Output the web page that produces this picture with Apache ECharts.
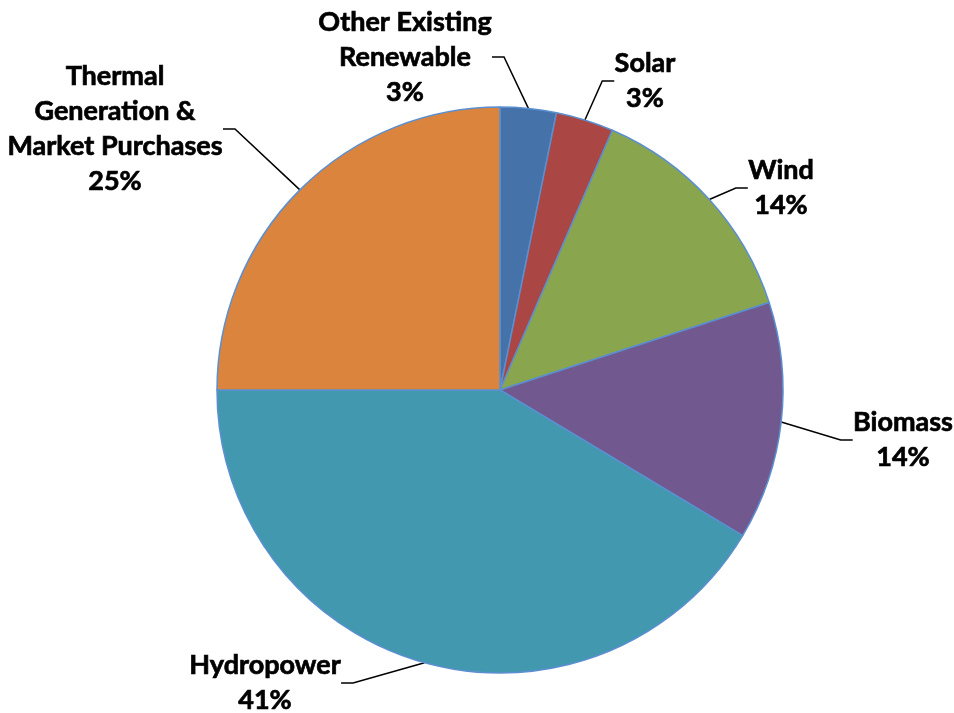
<!DOCTYPE html>
<html>
<head>
<meta charset="utf-8">
<script src="https://cdn.jsdelivr.net/npm/echarts@6/dist/echarts.min.js"></script>
<style>
  html, body { margin: 0; padding: 0; background: #fff; }
  #chart { width: 954px; height: 713px; }
</style>
</head>
<body>
<div id="chart"></div>
<script>
  let categories = ['Other Existing\nRenewable', 'Solar', 'Wind', 'Biomass', 'Hydropower', 'Thermal\nGeneration &\nMarket Purchases'];
  let shares = [3.2, 3.3, 13.5, 13.6, 41.4, 25.0];
  let colors = ['#4572a8', '#aa4643', '#89a54e', '#71588f', '#4198af', '#db843d'];

  // where each label block sits (centre of the text block, px)
  let labelSpots = [[405, 57], [645, 81], [781, 188], [903, 440], [265, 683], [115, 129]];

  let chart = echarts.init(document.getElementById('chart'));

  let option = {
    animation: false,
    color: colors,
    series: [{
      type: 'pie',
      center: [500, 390],
      radius: 283,
      startAngle: 90,
      clockwise: true,
      data: categories.map((name, i) => ({ name: name, value: shares[i] })),
      itemStyle: { borderColor: '#5b8fd0', borderWidth: 1.5 },
      label: {
        show: true,
        position: 'outside',
        formatter: p => p.name.split('\n').map(s => '{t|' + s + '}').join('\n') + '\n{t|' + Math.round(p.percent) + '%}',
        rich: {
          t: {
            fontFamily: 'Lato', fontWeight: 'bold', fontSize: 27, lineHeight: 35, color: '#000', align: 'center',
            textBorderColor: '#000', textBorderWidth: 0.7
          }
        }
      },
      labelLine: { show: true, length: 30, length2: 12, lineStyle: { color: '#000', width: 1.5 } },
      labelLayout: p => ({
        x: labelSpots[p.dataIndex][0],
        y: labelSpots[p.dataIndex][1],
        align: 'center',
        verticalAlign: 'middle'
      })
    }]
  };

  chart.setOption(option);
</script>
</body>
</html>
